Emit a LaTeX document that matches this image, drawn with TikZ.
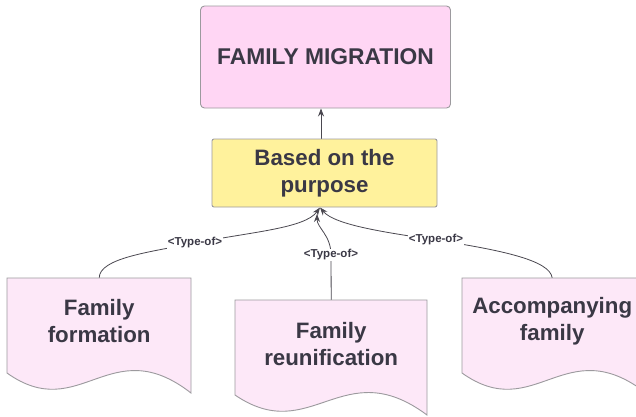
\documentclass[tikz,border=0pt]{standalone}
\usepackage{fontspec}
\setmainfont{Liberation Sans}
\usetikzlibrary{arrows.meta,backgrounds}
\definecolor{txt}{HTML}{3A3845}
\definecolor{topfill}{HTML}{FFD6F4}
\definecolor{docfill}{HTML}{FDE8F8}
\definecolor{yelfill}{HTML}{FFF29C}
\definecolor{bord}{HTML}{9C9A9E}
\definecolor{linec}{HTML}{4A4850}
\tikzset{
  x=1pt, y=-1pt,
  bigtxt/.style={font=\fontsize{22.3}{26.5}\selectfont\bfseries, text=txt, align=center},
  topbox/.style={bigtxt, font=\fontsize{22.8}{26.5}\selectfont\bfseries, draw=bord, line width=0.9pt, fill=topfill, rounded corners=4pt,
     minimum width=250pt, minimum height=102pt, inner sep=0pt},
  yelbox/.style={bigtxt, draw=bord, line width=0.9pt, fill=yelfill, rounded corners=2pt,
     minimum width=225pt, minimum height=68pt, inner sep=0pt},
  docarea/.style={bigtxt, anchor=north west, inner sep=0pt},
  docshape/.style={draw=bord, line width=0.9pt, fill=docfill},
  conn/.style={draw=linec, line width=0.8pt, -{Stealth[length=8pt,width=6pt]}},
  lbl/.style={font=\fontsize{11.5}{13}\selectfont\bfseries, text=txt, fill=white, inner sep=1pt}
}
\newcommand{\docpath}{(0,0) -- (184,0) -- (184,115) .. controls (103,52) and (73,147) .. (0,95) -- cycle}
\begin{document}
\begin{tikzpicture}
\useasboundingbox (0,0) rectangle (636,416);
\clip (0,0) rectangle (636,416);

% document shapes
\begin{scope}[shift={(7,278)}]
  \path[docshape] \docpath;
\end{scope}
\begin{scope}[shift={(235,300)}, xscale=1.0435]
  \path[docshape] \docpath;
\end{scope}
\begin{scope}[shift={(462,278)}]
  \path[docshape] \docpath;
\end{scope}

% nodes
\node[topbox] (fm) at (325.5,57) {FAMILY MIGRATION};
\node[yelbox] (bp) at (324.5,173) {Based on the\\purpose};
\node[docarea, minimum width=184pt, minimum height=86pt] (ld) at (7,278) {Family\\formation};
\node[docarea, minimum width=192pt, minimum height=88pt] (md) at (235,300) {Family\\reunification};
\node[docarea, minimum width=180pt, minimum height=86pt] (rd) at (462,278) {Accompanying\\family};
\coordinate (tip) at (320,207.5);
\coordinate (tipm) at (317,214);

% labels
\node[lbl] (l1) at (195,243) {<Type-of>};
\node[lbl] (l2) at (331,255) {<Type-of>};
\node[lbl] (l3) at (436,240) {<Type-of>};

% connectors
\begin{scope}[on background layer]
  \fill[white] (0,0) rectangle (636,416);
  \draw[conn] (bp.north -| 321,0) -- (fm.south -| 321,0);
  \draw[conn] (ld.north) .. controls +(0,-20) and +(-45,9) .. (l1.center)
              .. controls +(55,-11) and +(-15,21) .. (tip);
  \draw[conn] (md.north) -- (l2.center) .. controls +(0,-20) and +(0,14) .. (tipm);
  \draw[conn] (rd.north) .. controls +(-2,-18) and +(64,10) .. (l3.center)
              .. controls +(-46,-7) and +(15,18) .. (tip);
\end{scope}
\end{tikzpicture}
\end{document}
